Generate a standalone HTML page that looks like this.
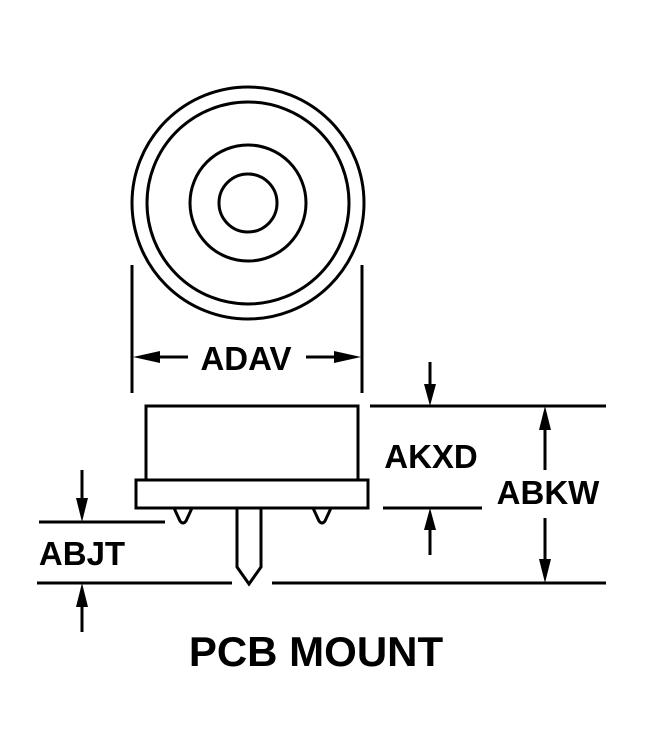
<!DOCTYPE html>
<html><head><style>body{margin:0;background:#fff}svg{display:block}</style></head><body>
<svg width="648" height="732" viewBox="0 0 648 732" xmlns="http://www.w3.org/2000/svg">
<g fill="none" stroke="#000" stroke-width="3">
<circle cx="248" cy="203" r="116"/>
<circle cx="248" cy="203" r="101"/>
<circle cx="248" cy="203" r="58"/>
<circle cx="248" cy="203" r="29"/>
<line x1="132" y1="265" x2="132" y2="393"/>
<line x1="362" y1="265" x2="362" y2="393"/>
<line x1="150" y1="357" x2="188" y2="357"/>
<line x1="306" y1="357" x2="344" y2="357"/>
<rect x="146" y="406" width="212" height="74"/>
<rect x="136" y="480" width="232" height="28"/>
<path d="M174 508 L180 521 Q183 525 186 521 L192 508"/>
<path d="M313 508 L319 521 Q322 525 325 521 L331 508"/>
<path d="M237 508 V567 L249 584 L261 567 V508"/>
<line x1="370" y1="406" x2="606" y2="406"/>
<line x1="383" y1="508" x2="482" y2="508"/>
<line x1="272" y1="583" x2="606" y2="583"/>
<line x1="37" y1="583" x2="232" y2="583"/>
<line x1="39" y1="522" x2="165" y2="522"/>
<line x1="430" y1="362" x2="430" y2="390"/>
<line x1="430" y1="525" x2="430" y2="555"/>
<line x1="545" y1="425" x2="545" y2="470"/>
<line x1="545" y1="518" x2="545" y2="565"/>
<line x1="82" y1="470" x2="82" y2="505"/>
<line x1="82" y1="600" x2="82" y2="632"/>
</g>
<g fill="#000">
<polygon points="133,357 160,351 160,363"/>
<polygon points="361,357 334,351 334,363"/>
<polygon points="430,406 424,384 436,384"/>
<polygon points="430,508 424,530 436,530"/>
<polygon points="545,406 539,430 551,430"/>
<polygon points="545,583 539,559 551,559"/>
<polygon points="82,522 76,498 88,498"/>
<polygon points="82,583 76,607 88,607"/>
</g>
<g font-family="Liberation Sans, sans-serif" font-weight="bold" fill="#000">
<text x="246" y="370" font-size="33" text-anchor="middle">ADAV</text>
<text x="431" y="468" font-size="33" text-anchor="middle">AKXD</text>
<text x="548" y="504" font-size="33" text-anchor="middle">ABKW</text>
<text x="82" y="565" font-size="33" text-anchor="middle">ABJT</text>
<text x="316" y="666" font-size="42" text-anchor="middle">PCB MOUNT</text>
</g>
</svg>
</body></html>
